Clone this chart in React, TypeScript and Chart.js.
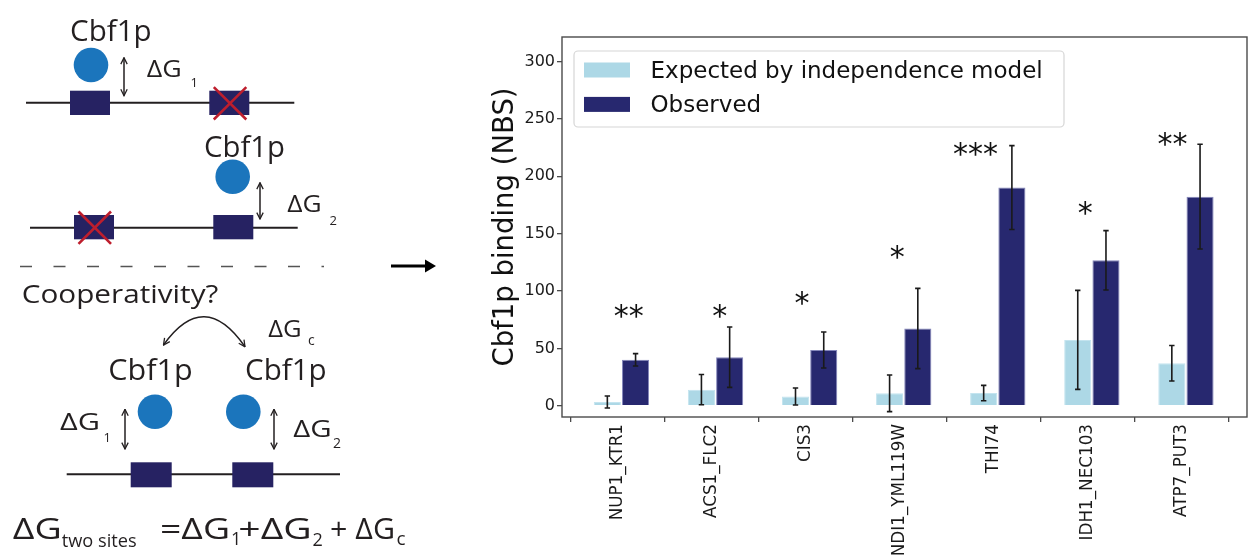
import React, { useEffect, useRef } from "react";
import { Chart, registerables } from "chart.js";

Chart.register(...registerables);

// ---------- chart data ----------
const categories = ["NUP1_KTR1", "ACS1_FLC2", "CIS3", "NDI1_YML119W", "THI74", "IDH1_NEC103", "ATP7_PUT3"];
const seriesLabels = ["Expected by independence model", "Observed"];
const expectedValues = [3.2, 14, 8, 10.8, 11, 57.4, 37];
const expectedErrors = [5.2, 13.2, 7.4, 16, 6.7, 43.2, 15.5];
const observedValues = [40, 42.3, 48.6, 67.3, 190.2, 126.8, 182.3];
const observedErrors = [5.4, 26.3, 15.7, 35, 36.6, 25.9, 45.7];
const significance = ["**", "*", "*", "*", "***", "*", "**"];
const significanceX = [0.078, 1.046, 1.918, 2.931, 3.762, 4.929, 5.856];
const significanceY = [81.9, 81.9, 92.9, 132.8, 223.3, 171.1, 232.1];
const yTickValues = [0, 50, 100, 150, 200, 250, 300];
const yTitle = "Cbf1p binding (NBS)";

const seriesColors = ["#add8e6", "#27286f"];
const seriesEdges = ["#c4e4ef", "#8486bb"];
const errorSets = [expectedErrors, observedErrors];
const FONT = "'DejaVu Sans', sans-serif";

const overlayPlugin = {
  id: "overlay",
  afterDraw(chart: any) {
    const { ctx, chartArea: a, scales } = chart;
    const x = scales.x;
    const y = scales.y;
    ctx.save();
    // error bars
    ctx.strokeStyle = "#1a1a1a";
    ctx.lineWidth = 1.6;
    chart.data.datasets.forEach((ds: any, di: number) => {
      const meta = chart.getDatasetMeta(di);
      meta.data.forEach((bar: any, i: number) => {
        const v = ds.data[i].y;
        const e = errorSets[di][i];
        const px = bar.x;
        const top = y.getPixelForValue(v + e);
        const bot = y.getPixelForValue(v - e);
        ctx.beginPath();
        ctx.moveTo(px, top);
        ctx.lineTo(px, bot);
        ctx.moveTo(px - 2.7, top);
        ctx.lineTo(px + 2.7, top);
        ctx.moveTo(px - 2.7, bot);
        ctx.lineTo(px + 2.7, bot);
        ctx.stroke();
      });
    });
    // significance stars
    ctx.fillStyle = "#111";
    ctx.font = `30px ${FONT}`;
    ctx.textAlign = "center";
    ctx.textBaseline = "alphabetic";
    significance.forEach((s, i) => {
      ctx.fillText(s, x.getPixelForValue(significanceX[i]), y.getPixelForValue(significanceY[i]) + 14);
    });
    // legend
    const lx = a.left + 12;
    const ly = a.top + 14;
    const lw = 490;
    const lh = 76;
    ctx.beginPath();
    const r = 4;
    ctx.moveTo(lx + r, ly);
    ctx.lineTo(lx + lw - r, ly);
    ctx.arcTo(lx + lw, ly, lx + lw, ly + r, r);
    ctx.lineTo(lx + lw, ly + lh - r);
    ctx.arcTo(lx + lw, ly + lh, lx + lw - r, ly + lh, r);
    ctx.lineTo(lx + r, ly + lh);
    ctx.arcTo(lx, ly + lh, lx, ly + lh - r, r);
    ctx.lineTo(lx, ly + r);
    ctx.arcTo(lx, ly, lx + r, ly, r);
    ctx.closePath();
    ctx.fillStyle = "rgba(255,255,255,0.85)";
    ctx.fill();
    ctx.strokeStyle = "#d6d6d6";
    ctx.lineWidth = 1.2;
    ctx.stroke();
    ctx.font = `23px ${FONT}`;
    ctx.textAlign = "left";
    chart.data.datasets.forEach((ds: any, di: number) => {
      const cy = ly + 19 + di * 34.4;
      ctx.fillStyle = ds.backgroundColor;
      ctx.fillRect(lx + 10, cy - 7.5, 46, 15);
      ctx.fillStyle = "#111";
      ctx.fillText(ds.label, lx + 76.5, cy + 8);
    });
    // frame (spines)
    ctx.strokeStyle = "#4a4a4a";
    ctx.lineWidth = 1.4;
    ctx.strokeRect(a.left, a.top, a.right - a.left, a.bottom - a.top);
    ctx.restore();
  },
};

function BarChart() {
  const ref = useRef<HTMLCanvasElement | null>(null);
  useEffect(() => {
    if (!ref.current) return;
    const chart = new Chart(ref.current, {
      type: "bar",
      data: {
        datasets: [
          {
            label: seriesLabels[0],
            data: expectedValues.map((v, i) => ({ x: i, y: v })),
            backgroundColor: seriesColors[0],
            borderColor: seriesEdges[0],
            borderWidth: 1,
          },
          {
            label: seriesLabels[1],
            data: observedValues.map((v, i) => ({ x: i, y: v })),
            backgroundColor: seriesColors[1],
            borderColor: seriesEdges[1],
            borderWidth: 1,
          },
        ],
      },
      options: {
        responsive: false,
        animation: false,
        devicePixelRatio: 1,
        categoryPercentage: 0.6,
        barPercentage: 0.96,
        layout: { padding: { left: 485, top: 37, right: 1, bottom: 0 } },
        plugins: { legend: { display: false }, tooltip: { enabled: false } },
        scales: {
          x: {
            type: "linear",
            min: -0.632,
            max: 6.649,
            offset: false,
            grid: { drawOnChartArea: false, drawTicks: true, tickLength: 5, color: "#4a4a4a", lineWidth: 1.3 },
            border: { display: false },
            afterBuildTicks: (scale: any) => {
              scale.ticks = categories.map((_, i) => ({ value: i - 0.045 }));
            },
            afterFit: (scale: any) => {
              scale.height = 141;
            },
            ticks: {
              autoSkip: false,
              maxRotation: 90,
              minRotation: 90,
              padding: 2,
              color: "#1a1a1a",
              font: { family: FONT, size: 16.8 },
              callback: (_v: any, i: number) => categories[i],
            },
          },
          y: {
            min: -9.85,
            max: 321.5,
            grid: { drawOnChartArea: false, drawTicks: true, tickLength: 5, color: "#4a4a4a", lineWidth: 1.3 },
            border: { display: false },
            afterBuildTicks: (scale: any) => {
              scale.ticks = yTickValues.map((v) => ({ value: v }));
            },
            afterFit: (scale: any) => {
              scale.width = 77;
            },
            ticks: {
              padding: 2,
              color: "#1a1a1a",
              font: { family: FONT, size: 16 },
            },
            title: {
              display: true,
              text: yTitle,
              color: "#111",
              font: { family: FONT, size: 27.5 },
              padding: { top: 4, bottom: 0 },
            },
          },
        },
      },
      plugins: [overlayPlugin],
    } as any);
    return () => chart.destroy();
  }, []);
  return <canvas ref={ref} width={1248} height={558} style={{ position: "absolute", left: 0, top: 0 }} />;
}

// ---------- left schematic ----------
const INK = "#231f20";
const BOX = "#262262";
const BLUE = "#1b75bc";
const RED = "#be1e2d";
const DFONT = "'Open Sans', 'Noto Sans', sans-serif";

function DArrow({ x, y1, y2 }: { x: number; y1: number; y2: number }) {
  return (
    <line x1={x} y1={y1 + 1} x2={x} y2={y2 - 1} stroke={INK} strokeWidth={1.5}
      markerStart="url(#chev)" markerEnd="url(#chev)" />
  );
}

function Box({ x, y, w, h, crossed }: { x: number; y: number; w: number; h: number; crossed?: boolean }) {
  return (
    <g>
      <rect x={x} y={y} width={w} height={h} fill={BOX} />
      {crossed && (
        <g stroke={RED} strokeWidth={2.6}>
          <line x1={x + 4.5} y1={y - 3.5} x2={x + w - 3} y2={y + h + 4.5} />
          <line x1={x + w - 3} y1={y - 3.5} x2={x + 4.5} y2={y + h + 4.5} />
        </g>
      )}
    </g>
  );
}

function T({ x, y, size, w, children }: { x: number; y: number; size: number; w?: number; children: any }) {
  return (
    <text x={x} y={y} fontSize={size} fontFamily={DFONT} fill={INK}
      {...(w ? { textLength: w, lengthAdjust: "spacingAndGlyphs" } : {})}>
      {children}
    </text>
  );
}

function Schematic() {
  return (
    <svg width={1248} height={558} style={{ position: "absolute", left: 0, top: 0, pointerEvents: "none" }}>
      <defs>
        <marker id="chev" viewBox="0 0 10 10" refX="9" refY="5" markerUnits="userSpaceOnUse"
          markerWidth="8" markerHeight="11" orient="auto-start-reverse">
          <path d="M1,1 L9,5 L1,9" fill="none" stroke={INK} strokeWidth={1.6} />
        </marker>
      </defs>
      {/* row 1 */}
      <T x={70} y={40.5} size={30} w={81.7}>Cbf1p</T>
      <circle cx={91} cy={65} r={17.3} fill={BLUE} />
      <DArrow x={124} y1={56.7} y2={96.7} />
      <T x={146.7} y={77.3} size={24} w={35}>ΔG</T>
      <T x={190.5} y={87.3} size={13}>1</T>
      <line x1={26} y1={102.7} x2={294.3} y2={102.7} stroke={INK} strokeWidth={2} />
      <Box x={70} y={90.7} w={40} h={24.3} />
      <Box x={209.3} y={90.7} w={40} h={24.3} crossed />
      {/* row 2 */}
      <T x={204} y={156.5} size={30} w={81}>Cbf1p</T>
      <circle cx={232.7} cy={176.7} r={17.3} fill={BLUE} />
      <DArrow x={260} y1={181.7} y2={220} />
      <T x={287.3} y={212.3} size={24} w={34.4}>ΔG</T>
      <T x={329.5} y={225} size={13}>2</T>
      <line x1={30} y1={227.7} x2={297.7} y2={227.7} stroke={INK} strokeWidth={2} />
      <Box x={74} y={215} w={40} h={24.3} crossed />
      <Box x={213.3} y={215} w={40} h={24.3} />
      {/* separator */}
      <line x1={20} y1={266.5} x2={324} y2={266.5} stroke="#555" strokeWidth={1.5} strokeDasharray="12 21.5" />
      {/* big arrow */}
      <line x1={391} y1={266} x2={428} y2={266} stroke="#000" strokeWidth={2.8} />
      <polygon points="425,259.5 436,266 425,272.5" fill="#000" />
      {/* cooperativity */}
      <T x={21.7} y={303.3} size={26} w={196.7}>Cooperativity?</T>
      <path d="M 163.5 345 Q 204 287.6 245 346.7" fill="none" stroke={INK} strokeWidth={1.5}
        markerStart="url(#chev)" markerEnd="url(#chev)" />
      <T x={268.3} y={336.7} size={24} w={33.4}>ΔG</T>
      <T x={308} y={345} size={14}>c</T>
      <T x={108.3} y={380} size={30} w={84.4}>Cbf1p</T>
      <T x={245} y={380} size={30} w={81.7}>Cbf1p</T>
      <circle cx={155} cy={411.7} r={17.3} fill={BLUE} />
      <circle cx={243.3} cy={411.7} r={17.3} fill={BLUE} />
      <DArrow x={125} y1={408.3} y2={450} />
      <DArrow x={274} y1={408.3} y2={450} />
      <T x={60} y={430} size={24} w={40}>ΔG</T>
      <T x={103.5} y={441.7} size={13}>1</T>
      <T x={293.3} y={436.7} size={24} w={38.4}>ΔG</T>
      <T x={333} y={448.3} size={14}>2</T>
      <line x1={66.7} y1={474.3} x2={340} y2={474.3} stroke={INK} strokeWidth={2} />
      <Box x={130.7} y={462.3} w={41} h={25} />
      <Box x={232.3} y={462.3} w={41} h={25} />
      {/* equation */}
      <T x={12.7} y={538.5} size={30} w={49}>ΔG</T>
      <T x={61.7} y={546.7} size={19} w={75}>two sites</T>
      <T x={160} y={539.3} size={30} w={70}>=ΔG</T>
      <T x={231} y={545} size={18}>1</T>
      <T x={238.3} y={539.3} size={30} w={73.4}>+ΔG</T>
      <T x={312.5} y={545.7} size={18}>2</T>
      <T x={330} y={539.3} size={30} w={65}>+ ΔG</T>
      <T x={396.5} y={545} size={19}>c</T>
    </svg>
  );
}

export default function App() {
  return (
    <div style={{ position: "absolute", left: 0, top: 0, width: 1248, height: 558, background: "#fff", overflow: "hidden" }}>
      <BarChart />
      <Schematic />
    </div>
  );
}
